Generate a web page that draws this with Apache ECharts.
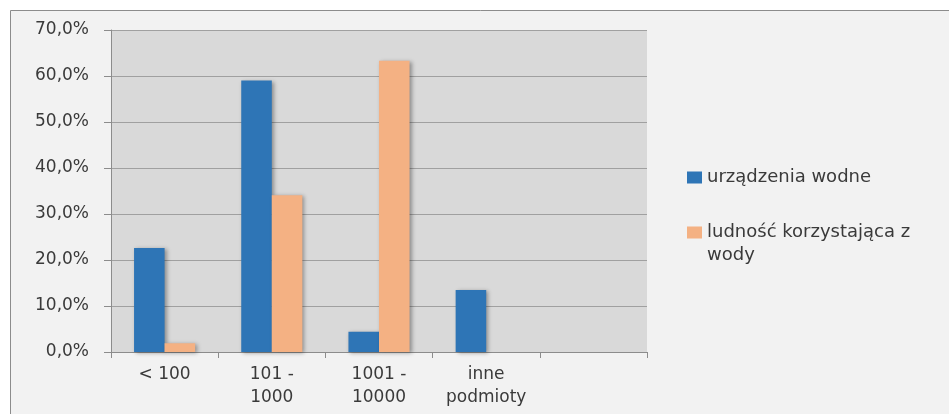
<!DOCTYPE html>
<html>
<head>
<meta charset="utf-8">
<script src="https://cdn.jsdelivr.net/npm/echarts@6/dist/echarts.min.js"></script>
<style>
  html, body { margin: 0; padding: 0; background: #ffffff; }
  #chart { width: 949px; height: 414px; }
</style>
</head>
<body>
<div id="chart"></div>
<script>
// Categories (population size classes); the last slot is left empty
const categories = ['< 100', '101 -\n1000', '1001 -\n10000', 'inne\npodmioty', ''];
// Share of water facilities, %
const urzadzenia = [22.6, 59.0, 4.4, 13.5, null];
// Share of population using the water, %
const ludnosc = [1.9, 34.1, 63.3, null, null];
// Value axis range
const yMin = 0, yMax = 70, yStep = 10;

const seriesNames = ['urządzenia wodne', 'ludność korzystająca z wody'];
const colors = ['#2e75b6', '#f4b183'];
const textColor = '#3a3a3a';
const fontFamily = '"DejaVu Sans", sans-serif';

const chart = echarts.init(document.getElementById('chart'), null, { renderer: 'canvas' });

const barShadow = {
  shadowBlur: 4,
  shadowColor: 'rgba(0,0,0,0.35)',
  shadowOffsetX: 2,
  shadowOffsetY: 1
};

chart.setOption({
  backgroundColor: '#ffffff',
  animation: false,
  textStyle: { fontFamily: fontFamily, color: textColor },
  graphic: [{
    type: 'rect',
    z: -100,
    silent: true,
    shape: { x: 10.5, y: 10.5, width: 960, height: 420 },
    style: { fill: '#f2f2f2', stroke: '#8c8c8c', lineWidth: 1 }
  }],
  grid: {
    left: 111, right: 302, top: 30, bottom: 62,
    show: true, backgroundColor: '#d9d9d9', borderWidth: 0
  },
  legend: [{
    orient: 'vertical',
    left: 687, top: 166,
    padding: 0,
    itemWidth: 15, itemHeight: 12,
    icon: 'rect',
    data: [seriesNames[0]],
    textStyle: { fontSize: 18, color: textColor, fontFamily: fontFamily, lineHeight: 23 }
  }, {
    orient: 'vertical',
    left: 687, top: 198,
    padding: 0,
    itemWidth: 15, itemHeight: 12,
    icon: 'rect',
    data: [seriesNames[1]],
    // leading blank line keeps the first text line level with the swatch
    formatter: function () { return '\nludność korzystająca z\nwody'; },
    textStyle: { fontSize: 18, color: textColor, fontFamily: fontFamily, lineHeight: 23 }
  }],
  xAxis: {
    type: 'category',
    data: categories,
    axisLine: { show: true, lineStyle: { color: '#8c8c8c', width: 1 } },
    axisTick: { show: true, length: 6, lineStyle: { color: '#8c8c8c' }, alignWithLabel: false },
    axisLabel: { interval: 0, fontSize: 17, lineHeight: 23, margin: 11, color: textColor, fontFamily: fontFamily },
    splitLine: { show: false }
  },
  yAxis: {
    type: 'value',
    min: yMin, max: yMax, interval: yStep,
    axisLine: { show: true, lineStyle: { color: '#8c8c8c', width: 1 } },
    axisTick: { show: true, length: 7, lineStyle: { color: '#8c8c8c' } },
    axisLabel: {
      fontSize: 17, margin: 22, color: textColor, fontFamily: fontFamily,
      formatter: v => v.toFixed(1).replace('.', ',') + '%'
    },
    splitLine: { show: true, lineStyle: { color: '#a0a0a0', width: 1 } }
  },
  series: [{
    name: seriesNames[0],
    type: 'bar',
    data: urzadzenia,
    barGap: '0%',
    barCategoryGap: '43%',
    itemStyle: Object.assign({ color: colors[0] }, barShadow)
  }, {
    name: seriesNames[1],
    type: 'bar',
    data: ludnosc,
    barGap: '0%',
    barCategoryGap: '43%',
    itemStyle: Object.assign({ color: colors[1] }, barShadow)
  }]
});
</script>
</body>
</html>
